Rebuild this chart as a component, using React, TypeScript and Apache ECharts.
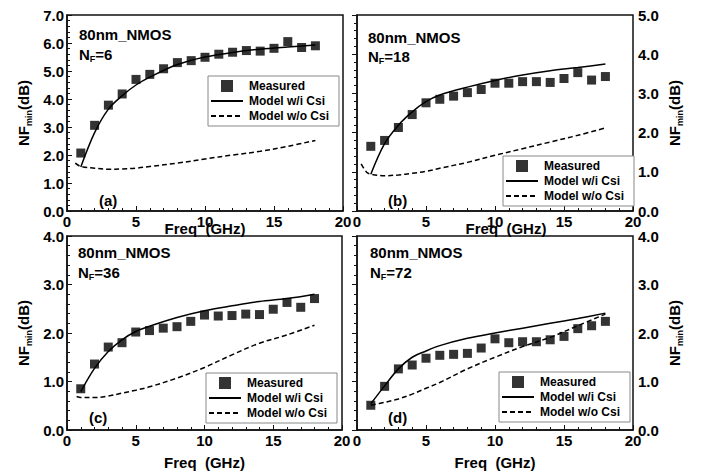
import React, { useEffect, useRef } from "react";
import * as echarts from "echarts";

const FONT = '"Liberation Sans", Arial, sans-serif';

const freq = [1, 2, 3, 4, 5, 6, 7, 8, 9, 10, 11, 12, 13, 14, 15, 16, 17, 18];
const measA = [2.07, 3.06, 3.78, 4.18, 4.70, 4.88, 5.08, 5.30, 5.37, 5.49, 5.60, 5.67, 5.73, 5.71, 5.81, 6.05, 5.84, 5.90];
const measB = [1.65, 1.80, 2.13, 2.46, 2.76, 2.85, 2.93, 3.02, 3.10, 3.26, 3.26, 3.30, 3.30, 3.28, 3.38, 3.53, 3.34, 3.43];
const measC = [0.85, 1.36, 1.71, 1.80, 2.02, 2.05, 2.10, 2.13, 2.24, 2.37, 2.35, 2.36, 2.39, 2.38, 2.49, 2.63, 2.53, 2.71];
const measD = [0.51, 0.90, 1.26, 1.34, 1.48, 1.54, 1.56, 1.58, 1.69, 1.88, 1.80, 1.82, 1.82, 1.86, 1.93, 2.09, 2.15, 2.24];

const modelFreq = [1, 2, 3, 4, 5, 6, 8, 10, 12, 14, 16, 18];
const withA = [1.57, 2.8, 3.64, 4.12, 4.5, 4.78, 5.23, 5.5, 5.66, 5.78, 5.86, 5.93];
const withB = [0.94, 1.72, 2.19, 2.53, 2.79, 2.96, 3.16, 3.33, 3.47, 3.58, 3.66, 3.75];
const withC = [0.79, 1.27, 1.62, 1.86, 2.03, 2.14, 2.32, 2.46, 2.56, 2.65, 2.71, 2.80];
const withD = [0.54, 0.91, 1.26, 1.50, 1.63, 1.74, 1.89, 2.0, 2.10, 2.20, 2.30, 2.41];

const woFreqA = [0.6, 1, 2, 3, 4, 5, 6, 8, 10, 12, 14, 16, 18];
const woA = [1.71, 1.59, 1.53, 1.49, 1.5, 1.53, 1.59, 1.71, 1.86, 2.0, 2.13, 2.31, 2.52];
const woFreqB = [0.3, 0.7, 1, 2, 3, 4, 5, 6, 8, 10, 12, 14, 16, 18];
const woB = [1.2, 0.99, 0.94, 0.9, 0.92, 0.96, 1.01, 1.09, 1.24, 1.42, 1.59, 1.76, 1.93, 2.12];
const woFreqC = [0.7, 1, 2, 3, 4, 5, 6, 8, 10, 12, 14, 16, 18];
const woC = [0.69, 0.67, 0.67, 0.70, 0.76, 0.82, 0.89, 1.07, 1.29, 1.55, 1.79, 1.96, 2.16];
const woFreqD = [1, 2, 3, 4, 5, 6, 8, 10, 12, 14, 16, 18];
const woD = [0.51, 0.57, 0.64, 0.74, 0.86, 0.98, 1.26, 1.50, 1.72, 1.91, 2.15, 2.39];

const xTicks = [0, 5, 10, 15, 20];
const yMaxes = [7, 5, 4, 4];
const nfLabels = ["6", "18", "36", "72"];
const panelTags = ["(a)", "(b)", "(c)", "(d)"];
const deviceName = "80nm_NMOS";
const legendNames = ["Measured", "Model w/i Csi", "Model w/o Csi"];

const pair = (xs: number[], ys: number[]) => xs.map((x, i) => [x, ys[i]]);

export default function App() {
  const ref = useRef<HTMLDivElement>(null);
  useEffect(() => {
    if (!ref.current) return;
    const chart = echarts.init(ref.current, undefined, { renderer: "svg" });

    const grids = [
      { left: 67, top: 15, width: 276, height: 196 },
      { left: 357, top: 15, width: 276, height: 196 },
      { left: 67, top: 236, width: 275, height: 194 },
      { left: 357, top: 236, width: 276, height: 194 },
    ];
    const meas = [measA, measB, measC, measD];
    const withs = [withA, withB, withC, withD];
    const wos = [pair(woFreqA, woA), pair(woFreqB, woB), pair(woFreqC, woC), pair(woFreqD, woD)];
    const legendPos = [
      { left: 208, top: 76 },
      { left: 503, top: 156 },
      { left: 206, top: 373 },
      { left: 499, top: 372 },
    ];
    const textPos = [
      { x: 79, y: 34, nfy: 54, tx: 99, ty: 200 },
      { x: 368, y: 37, nfy: 56, tx: 388, ty: 200 },
      { x: 78, y: 252, nfy: 272, tx: 89, ty: 417 },
      { x: 370, y: 252, nfy: 272, tx: 388, ty: 417 },
    ];

    const axisColor = "#111";
    const xAxes: any[] = [];
    const yAxes: any[] = [];
    const series: any[] = [];
    const legends: any[] = [];
    const graphics: any[] = [];

    grids.forEach((g, i) => {
      const right = i % 2 === 1;
      const bottom = i >= 2;
      xAxes.push({
        gridIndex: i,
        type: "value",
        min: xTicks[0],
        max: xTicks[xTicks.length - 1],
        interval: 5,
        name: "Freq  (GHz)",
        nameLocation: "middle",
        nameMoveOverlap: false,
        nameGap: bottom ? 25 : 10,
        nameTextStyle: {
          fontFamily: FONT,
          fontWeight: "bold",
          fontSize: 15,
          color: "#000",
          padding: i === 1 ? [0, 0, 0, 22] : 0,
        },
        axisLine: { show: true, lineStyle: { color: axisColor, width: 1.5 } },
        axisTick: { show: true, inside: true, length: 5, lineStyle: { color: axisColor, width: 1 } },
        minorTick: { show: true, splitNumber: 5, length: 3, lineStyle: { color: axisColor, width: 1 } },
        splitLine: { show: false },
        axisLabel: {
          margin: 3,
          fontFamily: FONT,
          fontWeight: "bold",
          fontSize: 15,
          color: "#000",
        },
      });
      yAxes.push({
        gridIndex: i,
        type: "value",
        position: right ? "right" : "left",
        min: 0,
        max: yMaxes[i],
        interval: 1,
        name: "{a|NF}{b|min}{a|(dB)}",
        nameLocation: "middle",
        nameMoveOverlap: false,
        nameRotate: 90,
        nameGap: right ? 31 : 34,
        nameTextStyle: {
          rich: {
            a: { fontFamily: FONT, fontWeight: "bold", fontSize: 15, color: "#000" },
            b: { fontFamily: FONT, fontWeight: "bold", fontSize: 9, color: "#000", padding: [11, 0, 0, 0] },
          },
        },
        axisLine: { show: true, lineStyle: { color: axisColor, width: 1.5 } },
        axisTick: { show: true, inside: true, length: 5, lineStyle: { color: axisColor, width: 1 } },
        minorTick: { show: true, splitNumber: 5, length: 3, lineStyle: { color: axisColor, width: 1 } },
        splitLine: { show: false },
        axisLabel: {
          margin: right ? 5 : 3,
          padding: right ? [0, 0, 5, 0] : 0,
          fontFamily: FONT,
          fontWeight: "bold",
          fontSize: 15,
          color: "#000",
          formatter: (v: number) => v.toFixed(1),
        },
      });
      series.push({
        name: legendNames[0],
        type: "scatter",
        xAxisIndex: i,
        yAxisIndex: i,
        symbol: "rect",
        symbolSize: 9,
        itemStyle: { color: "#000" },
        data: pair(freq, meas[i]),
        z: 3,
      });
      series.push({
        name: legendNames[1],
        type: "line",
        xAxisIndex: i,
        yAxisIndex: i,
        showSymbol: false,
        symbol: "none",
        smooth: 0.35,
        lineStyle: { color: "#000", width: 1.5, type: "solid" },
        itemStyle: { color: "#000" },
        data: pair(modelFreq, withs[i]),
      });
      series.push({
        name: legendNames[2],
        type: "line",
        xAxisIndex: i,
        yAxisIndex: i,
        showSymbol: false,
        symbol: "none",
        smooth: 0.35,
        lineStyle: { color: "#000", width: 1.5, type: [5, 3] },
        itemStyle: { color: "#000" },
        data: wos[i],
      });
      legends.push({
        ...legendPos[i],
        orient: "vertical",
        align: "left",
        selectedMode: false,
        itemWidth: 32,
        itemHeight: 12,
        itemGap: 3,
        padding: [4, 10, 4, 2],
        borderColor: "#888",
        borderWidth: 1,
        backgroundColor: "#fff",
        textStyle: { fontFamily: FONT, fontWeight: "bold", fontSize: 12, color: "#000", padding: [0, 0, 0, 1] },
        data: [
          { name: legendNames[0], icon: "path://M0,0L10,0L10,10L0,10Z" },
          { name: legendNames[1], itemStyle: { opacity: 0 } },
          { name: legendNames[2], itemStyle: { opacity: 0 } },
        ],
      });
      const tp = textPos[i];
      graphics.push({
        type: "text",
        x: tp.x,
        y: tp.y,
        style: {
          text: deviceName,
          fontFamily: FONT,
          fontWeight: "bold",
          fontSize: 15,
          fill: "#000",
          verticalAlign: "middle",
        },
      });
      graphics.push({
        type: "text",
        x: tp.x,
        y: tp.nfy,
        style: {
          text: "{n|N}{s|F}{n|=" + nfLabels[i] + "}",
          verticalAlign: "middle",
          rich: {
            n: { fontFamily: FONT, fontWeight: "bold", fontSize: 15, fill: "#000" },
            s: { fontFamily: FONT, fontWeight: "bold", fontSize: 9, fill: "#000", padding: [9, 0, 0, 0] },
          },
        },
      });
      graphics.push({
        type: "text",
        x: tp.tx,
        y: tp.ty,
        style: {
          text: panelTags[i],
          fontFamily: FONT,
          fontWeight: "bold",
          fontSize: 15,
          fill: "#000",
          verticalAlign: "middle",
        },
      });
    });

    chart.setOption({
      animation: false,
      backgroundColor: "#fff",
      grid: grids.map((g) => ({ ...g, show: true, borderColor: axisColor, borderWidth: 1.5, backgroundColor: "transparent" })),
      xAxis: xAxes,
      yAxis: yAxes,
      legend: legends,
      series,
      graphic: graphics,
    });
    return () => chart.dispose();
  }, []);
  return (
    <div
      ref={ref}
      style={{ position: "fixed", left: 0, top: 0, width: 704, height: 472, background: "#fff" }}
    />
  );
}
